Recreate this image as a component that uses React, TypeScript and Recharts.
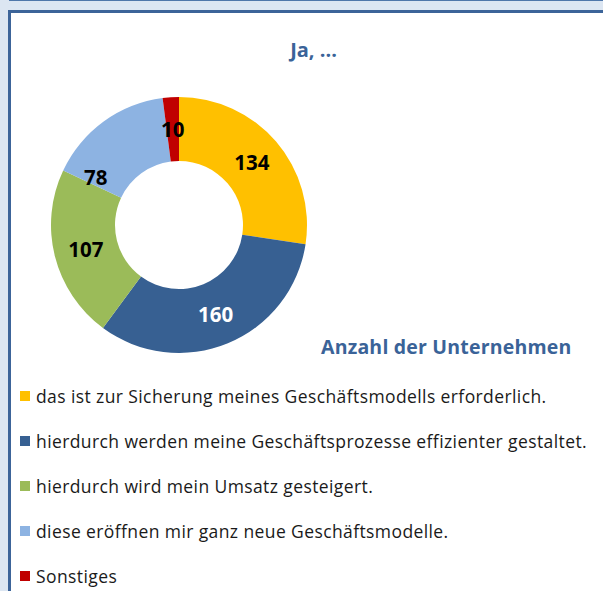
import React from 'react';
import { PieChart, Pie, Cell, Legend } from 'recharts';

const categories = [
  'das ist zur Sicherung meines Geschäftsmodells erforderlich.',
  'hierdurch werden meine Geschäftsprozesse effizienter gestaltet.',
  'hierdurch wird mein Umsatz gesteigert.',
  'diese eröffnen mir ganz neue Geschäftsmodelle.',
  'Sonstiges',
];
const values = [134, 160, 107, 78, 10];
const colors = ['#FFC000', '#376092', '#9BBB59', '#8DB3E2', '#C00000'];
const labelColors = ['#000', '#fff', '#000', '#000', '#000'];
const title = 'Ja, ...';
const subtitle = 'Anzahl der Unternehmen';

const data = categories.map((name, i) => ({ name, value: values[i] }));

const FONT = '"Open Sans", sans-serif';
const RAD = Math.PI / 180;
// Excel nudges a few labels along the ring to avoid crowding
const angleNudge: Record<number, number> = { 3: 24 };

const renderLabel = (props: any) => {
  const { cx, cy, midAngle, innerRadius, outerRadius, index, value } = props;
  const r = (innerRadius + outerRadius) / 2;
  const a = (midAngle + (angleNudge[index] || 0)) * RAD;
  const x = cx + r * Math.cos(a);
  const y = cy - r * Math.sin(a);
  return (
    <text
      x={x}
      y={y}
      fill={labelColors[index]}
      textAnchor="middle"
      dominantBaseline="central"
      fontFamily={FONT}
      fontWeight={700}
      fontSize={20.5}
    >
      {value}
    </text>
  );
};

const renderLegend = () => (
  <div style={{ fontFamily: FONT }}>
    {categories.map((name, i) => (
      <div
        key={i}
        style={{ display: 'flex', alignItems: 'center', height: 45.2, fontSize: 17.5, letterSpacing: 0.4, color: '#1a1a1a', whiteSpace: 'nowrap' }}
      >
        <span style={{ display: 'inline-block', width: 10, height: 10, background: colors[i], marginRight: 6, flex: 'none' }} />
        <span>{name}</span>
      </div>
    ))}
  </div>
);

export default function App() {
  return (
    <div style={{ position: 'absolute', left: 0, top: 0, width: 603, height: 591, background: '#DCE6F2', overflow: 'hidden' }}>
      <div style={{ position: 'absolute', left: 9, top: 0, width: 600, height: 1, background: '#4F77AA' }} />
      <div
        style={{
          position: 'absolute',
          left: 8,
          top: 10,
          width: 620,
          height: 620,
          background: '#fff',
          borderLeft: '3px solid #3C6499',
          borderTop: '3px solid #3C6499',
        }}
      />
      <div
        style={{
          position: 'absolute', left: 0, top: 36, width: 627, textAlign: 'center',
          fontFamily: FONT, fontWeight: 700, fontSize: 20, color: '#3A6398',
        }}
      >
        {title}
      </div>
      <div
        style={{
          position: 'absolute', left: 321, top: 333, whiteSpace: 'nowrap',
          fontFamily: FONT, fontWeight: 700, fontSize: 19.5, letterSpacing: 0.2, color: '#3A6398',
        }}
      >
        {subtitle}
      </div>
      <div style={{ position: 'absolute', left: 0, top: 0 }}>
        <PieChart width={603} height={591} margin={{ top: 0, right: 0, bottom: 0, left: 0 }}>
          <Pie
            data={data}
            dataKey="value"
            nameKey="name"
            cx={179}
            cy={225}
            innerRadius={64}
            outerRadius={128}
            startAngle={90}
            endAngle={-270}
            stroke="none"
            label={renderLabel}
            labelLine={false}
            isAnimationActive={false}
          >
            {data.map((_, i) => (
              <Cell key={i} fill={colors[i]} />
            ))}
          </Pie>
          <Legend
            content={renderLegend}
            layout="horizontal"
            verticalAlign="bottom"
            align="left"
            wrapperStyle={{ position: 'absolute', left: 20, top: 373, bottom: 'auto', width: 580 }}
          />
        </PieChart>
      </div>
    </div>
  );
}
